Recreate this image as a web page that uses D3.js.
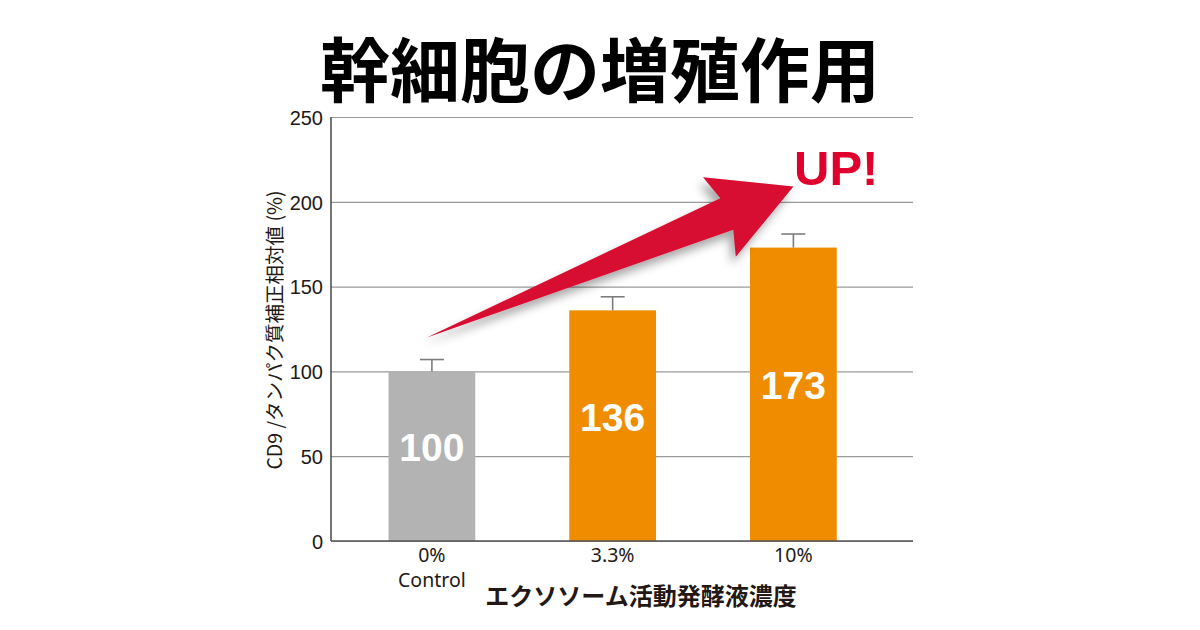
<!DOCTYPE html>
<html>
<head>
<meta charset="utf-8">
<script src="https://cdn.jsdelivr.net/npm/d3@7"></script>
<style>
  body { margin: 0; background: #fff; }
  svg { display: block; }
  .tick-y text { font-family: "Liberation Sans", Arial, sans-serif; font-size: 20px; fill: #231815; }
  .tick-x text { font-family: "Noto Sans", "Open Sans", sans-serif; font-size: 19.5px; fill: #231815; }
</style>
</head>
<body>
<div id="chart"></div>
<script>
var categories = ['0%', '3.3%', '10%'];
var subLabels = ['Control', '', ''];
var values = [100, 136, 173];
var errors = [7, 8, 8];
var barColors = ['#b3b3b3', '#f08c00', '#f08c00'];
var yTicks = [0, 50, 100, 150, 200, 250];
// arrow annotation: tail / tip in data units
var arrowFrom = { cat: '0%', value: 120, shift: -5 };
var arrowTo = { cat: '10%', value: 209, shift: 0 };

var cfg = {
    w: 1200,
    h: 630,
    left: 331,
    right: 913,
    top: 117,
    bottom: 541
};

var svg = d3.select('#chart').append('svg')
    .attr('width', cfg.w)
    .attr('height', cfg.h);

var defs = svg.append('defs');
defs.append('filter')
    .attr('id', 'shadow')
    .attr('x', '-20%').attr('y', '-20%')
    .attr('width', '140%').attr('height', '160%')
    .append('feDropShadow')
    .attr('dx', -4).attr('dy', 7)
    .attr('stdDeviation', 5)
    .attr('flood-color', '#000')
    .attr('flood-opacity', 0.35);

var x = d3.scaleBand()
    .domain(categories)
    .range([cfg.left, cfg.right])
    .paddingInner(0.52)
    .paddingOuter(0.37)
    .align(0.43);
var y = d3.scaleLinear()
    .domain([0, 250])
    .range([cfg.bottom, cfg.top]);

// title
svg.append('text')
    .attr('x', 600)
    .attr('y', 97)
    .attr('text-anchor', 'middle')
    .style('font-family', '"Noto Sans CJK JP", sans-serif')
    .style('font-weight', 700)
    .style('font-size', '70px')
    .style('fill', '#000')
    .text('幹細胞の増殖作用');

// grid + y axis
var yAxis = d3.axisLeft(y).tickValues(yTicks).tickSize(-(cfg.right - cfg.left)).tickPadding(8);
svg.append('g')
    .attr('class', 'tick-y')
    .attr('transform', 'translate(' + cfg.left + ',0)')
    .call(yAxis)
    .call(function(g) {
        g.select('.domain').remove();
        g.selectAll('.tick line').attr('stroke', '#9a9a9a').attr('stroke-width', 1.2);
        g.selectAll('.tick text').attr('dy', '0.36em');
    });

// bars
svg.append('g')
    .selectAll('rect')
    .data(values)
    .enter()
    .append('rect')
    .attr('x', function(d, i) { return x(categories[i]); })
    .attr('y', function(d) { return y(d); })
    .attr('width', x.bandwidth())
    .attr('height', function(d) { return y(0) - y(d); })
    .attr('fill', function(d, i) { return barColors[i]; });

// error bars
var err = svg.append('g').attr('stroke', '#7d7d7d').attr('stroke-width', 1.6);
values.forEach(function(d, i) {
    var cx = x(categories[i]) + x.bandwidth() / 2;
    err.append('line')
        .attr('x1', cx).attr('x2', cx)
        .attr('y1', y(d)).attr('y2', y(d + errors[i]));
    err.append('line')
        .attr('x1', cx - 12).attr('x2', cx + 12)
        .attr('y1', y(d + errors[i])).attr('y2', y(d + errors[i]));
});

// axis lines
svg.append('line')
    .attr('x1', cfg.left).attr('x2', cfg.left)
    .attr('y1', y(250)).attr('y2', y(0))
    .attr('stroke', '#3a3a3a').attr('stroke-width', 1.4);
svg.append('line')
    .attr('x1', cfg.left).attr('x2', cfg.right)
    .attr('y1', y(0)).attr('y2', y(0))
    .attr('stroke', '#555').attr('stroke-width', 1.6);

// value labels
svg.append('g')
    .selectAll('text')
    .data(values)
    .enter()
    .append('text')
    .attr('x', function(d, i) { return x(categories[i]) + x.bandwidth() / 2; })
    .attr('y', function(d) { return (y(d) + y(0)) / 2 + 5; })
    .attr('text-anchor', 'middle')
    .style('font-family', '"Liberation Sans", Arial, sans-serif')
    .style('font-weight', 700)
    .style('font-size', '39px')
    .style('fill', '#fff')
    .text(function(d) { return d; });

// x tick labels
var xt = svg.append('g').attr('class', 'tick-x');
categories.forEach(function(c, i) {
    xt.append('text')
        .attr('x', x(c) + x.bandwidth() / 2)
        .attr('y', 562)
        .attr('text-anchor', 'middle')
        .text(c);
    if (subLabels[i]) {
        xt.append('text')
            .attr('x', x(c) + x.bandwidth() / 2)
            .attr('y', 587)
            .attr('text-anchor', 'middle')
            .text(subLabels[i]);
    }
});

// axis titles
svg.append('text')
    .attr('x', 641)
    .attr('y', 605)
    .attr('text-anchor', 'middle')
    .style('font-family', '"Noto Sans CJK JP", sans-serif')
    .style('font-weight', 700)
    .style('font-size', '24px')
    .style('fill', '#231815')
    .text('エクソソーム活動発酵液濃度');

svg.append('text')
    .attr('transform', 'translate(282,330) rotate(-90)')
    .attr('text-anchor', 'middle')
    .style('font-family', '"Noto Sans CJK JP", sans-serif')
    .style('font-size', '19.5px')
    .style('fill', '#231815')
    .text('CD9 /タンパク質補正相対値 (%)');

// arrow
var tail = [x(arrowFrom.cat) + x.bandwidth() / 2 + arrowFrom.shift, y(arrowFrom.value)];
var tip = [x(arrowTo.cat) + x.bandwidth() / 2 + arrowTo.shift, y(arrowTo.value)];
var dx = tip[0] - tail[0], dy = tip[1] - tail[1];
var len = Math.sqrt(dx * dx + dy * dy);
var u = [dx / len, dy / len], n = [-u[1], u[0]];
function pt(along, side) {
    return [tip[0] + u[0] * along + n[0] * side, tip[1] + u[1] * along + n[1] * side];
}
var arrowPts = [tail, pt(-72, 17), pt(-80, 43), tip, pt(-80, -43), pt(-72, -17)];
svg.append('path')
    .attr('d', d3.line()(arrowPts) + 'Z')
    .attr('fill', '#d70a30')
    .attr('filter', 'url(#shadow)');

svg.append('text')
    .attr('x', 794)
    .attr('y', 185)
    .style('font-family', '"Liberation Sans", Arial, sans-serif')
    .style('font-weight', 700)
    .style('font-size', '49px')
    .style('fill', '#e0002d')
    .text('UP!');
</script>
</body>
</html>
